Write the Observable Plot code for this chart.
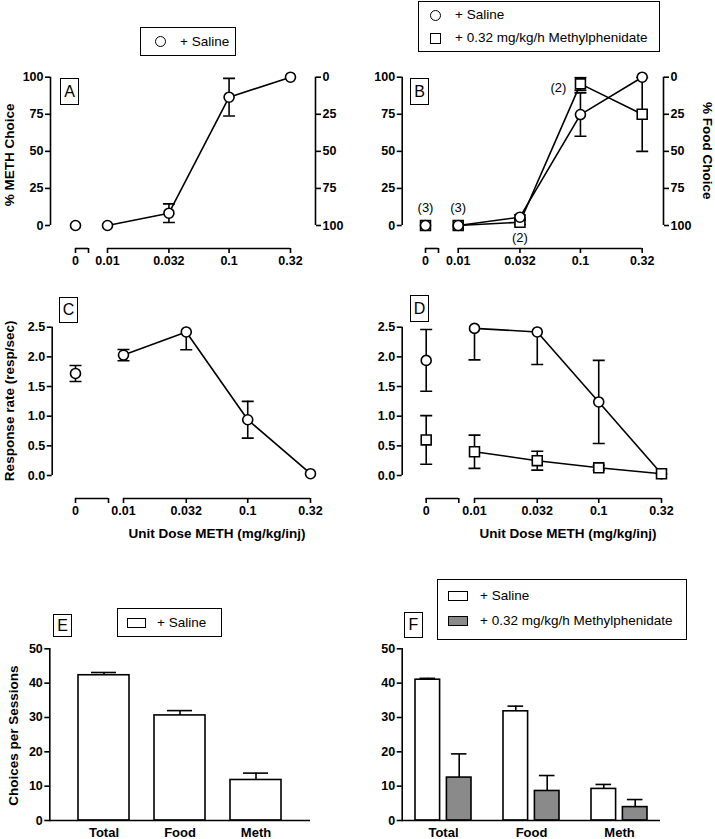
<!DOCTYPE html>
<html>
<head>
<meta charset="utf-8">
<script src="https://cdn.jsdelivr.net/npm/d3@7"></script>
<script src="https://cdn.jsdelivr.net/npm/@observablehq/plot@0.6"></script>
<style>
  body { margin: 0; background: #fff; font-family: "Liberation Sans", Arial, sans-serif; }
  #fig { position: relative; width: 715px; height: 839px; overflow: hidden; background: #fff; }
  .panel { position: absolute; }
  .panel svg { background: transparent !important; max-width: none !important; }
  .box { position: absolute; border: 1.5px solid #000; box-sizing: border-box; background: #fff; }
  .letter { position: absolute; border: 1.5px solid #000; box-sizing: border-box; background: #fff;
            font-size: 16px; display: flex; align-items: center; justify-content: center; line-height: 1; }
  .sym { position: absolute; box-sizing: border-box; border: 1.6px solid #000; background: #fff; }
  .circ { border-radius: 50%; }
  .ltxt { position: absolute; font-size: 13.5px; line-height: 16px; white-space: nowrap; color: #000; }
</style>
</head>
<body>
<div id="fig"></div>
<script>
// ---------------- DATA ----------------
const doses = [0, 0.01, 0.032, 0.1, 0.32];
const doseLabels = ["0", "0.01", "0.032", "0.1", "0.32"];
const choiceTicks = [0, 25, 50, 75, 100];
const rateTicks = [0, 0.5, 1.0, 1.5, 2.0, 2.5];

// Panel A: % METH choice, + Saline
const choiceA_saline = [0, 0, 8.3, 86.5, 100];
const choiceA_saline_sem = [0, 0, 6.3, 12.7, 0];

// Panel B: % METH choice, + Saline and + Methylphenidate
const choiceB_saline = [0, 0, 5.6, 74.8, 100];
const choiceB_saline_sem = [0, 0, 1.5, 14.6, 0];
const choiceB_mph = [0, 0, 2.2, 95.5, 75];
const choiceB_mph_sem = [0, 0, 1.5, 4.5, 25];
const choiceB_mph_n = ["(3)", "(3)", "(2)", "(2)", ""];

// Panel C: response rate, + Saline
const rateC_saline = [1.72, 2.03, 2.42, 0.94, 0.03];
const rateC_saline_sem = [0.135, 0.095, 0.30, 0.31, 0];

// Panel D: response rate, + Saline and + Methylphenidate
const rateD_saline = [1.94, 2.48, 2.42, 1.24, 0.03];
const rateD_saline_sem = [0.52, 0.53, 0.55, 0.70, 0];
const rateD_mph = [0.60, 0.40, 0.25, 0.13, 0.03];
const rateD_mph_sem = [0.41, 0.28, 0.16, 0.04, 0];

// Panels E/F: choices per session
const barCategories = ["Total", "Food", "Meth"];
const barTicks = [0, 10, 20, 30, 40, 50];
const barsE_saline = [42.3, 30.6, 11.8];
const barsE_saline_sem = [0.8, 1.4, 2.0];
const barsF_saline = [41.0, 31.8, 9.2];
const barsF_saline_sem = [0.4, 1.5, 1.3];
const barsF_mph = [12.5, 8.6, 3.9];
const barsF_mph_sem = [6.9, 4.5, 2.2];

// ---------------- HELPERS ----------------
const fig = document.getElementById("fig");
const FONT = "'Liberation Sans', Arial, Helvetica, sans-serif";
const SW = 1.6;
const TICK_FS = 12.5;
const TITLE_FS = 13.5;
const capSymbol = {
  draw(ctx, size) {
    const w = Math.sqrt(size / Math.PI);
    ctx.moveTo(-w, 0);
    ctx.lineTo(w, 0);
  }
};

function place(el, left, top, W) {
  const d = document.createElement("div");
  d.className = "panel";
  d.style.left = left + "px";
  d.style.top = top + "px";
  d.style.width = W + "px";
  d.appendChild(el);
  fig.appendChild(d);
}

function dosePanel(cfg) {
  const lo = Math.log10(doses[1]), hi = Math.log10(doses[doses.length - 1]);
  const decade = (cfg.p32 - cfg.p01) / (hi - lo);
  const toLog = px => lo + (px - cfg.p01) / decade;
  const zeroPos = toLog(cfg.p0), breakPos = toLog(cfg.pBr);
  const xPos = d => d === 0 ? zeroPos : Math.log10(d);
  const unit = (cfg.yZeroPx - cfg.yTopPx) / cfg.yMax;
  const yLo = -(cfg.axisPx - cfg.yZeroPx) / unit;
  const xDomain = [toLog(cfg.L), toLog(cfg.R)];
  const tickVals = [zeroPos, breakPos, ...doses.slice(1).map(Math.log10)];
  const tickFormat = v => {
    const i = doses.findIndex(d => Math.abs(xPos(d) - v) < 1e-9);
    return i >= 0 ? doseLabels[i] : "";
  };

  const seriesRows = cfg.series.map(s => doses.map((d, i) => ({
    dose: d, x: xPos(d), v: s.values[i], e: s.sem[i],
    lo: s.values[i] - s.sem[i], hi: s.values[i] + s.sem[i],
    n: s.n ? s.n[i] : ""
  })));

  const marks = [];
  // y axis line + ticks
  marks.push(Plot.ruleX([xDomain[0]], {y1: 0, y2: cfg.yMax, strokeWidth: SW}));
  marks.push(Plot.axisY({ticks: cfg.yTicks, tickFormat: cfg.yFormat, tickSize: 5, tickPadding: 2, label: null,
    strokeWidth: SW, fontSize: TICK_FS, fontWeight: "bold"}));
  if (cfg.rightAxis) {
    marks.push(Plot.ruleX([xDomain[1]], {y1: 0, y2: cfg.yMax, strokeWidth: SW}));
    marks.push(Plot.axisY({anchor: "right", ticks: cfg.yTicks, tickFormat: d => cfg.yMax - d, label: null,
      tickSize: 5, tickPadding: 2, strokeWidth: SW, fontSize: TICK_FS, fontWeight: "bold"}));
  }
  // broken x axis
  marks.push(Plot.ruleY([{a: zeroPos, b: breakPos}, {a: lo, b: hi}],
    {x1: "a", x2: "b", y: yLo, strokeWidth: SW}));
  marks.push(Plot.axisX({ticks: tickVals, tickFormat, tickSize: 5, tickPadding: 3, label: null,
    strokeWidth: SW, fontSize: TICK_FS, fontWeight: "bold"}));

  // error bars
  seriesRows.forEach(rows => {
    const er = rows.filter(d => d.e > 0);
    marks.push(Plot.ruleX(er, {x: "x", y1: "lo", y2: "hi", strokeWidth: SW, clip: true}));
    marks.push(Plot.dot(er, {x: "x", y: "lo", symbol: capSymbol, r: 6, stroke: "black", fill: "none", strokeWidth: SW, clip: true}));
    marks.push(Plot.dot(er, {x: "x", y: "hi", symbol: capSymbol, r: 6, stroke: "black", fill: "none", strokeWidth: SW, clip: true}));
  });
  // lines + points
  seriesRows.forEach((rows, k) => {
    const s = cfg.series[k];
    marks.push(Plot.line(rows.filter(d => d.dose > 0), {x: "x", y: "v", stroke: "black", strokeWidth: SW}));
    marks.push(Plot.dot(rows, {x: "x", y: "v", symbol: s.symbol, r: s.symbol === "square" ? 5.6 : 5,
      fill: "white", stroke: "black", strokeWidth: SW}));
  });
  // n labels
  seriesRows.forEach(rows => {
    const withN = rows.filter(d => d.n);
    if (!withN.length) return;
    const opt = {x: "x", y: "v", text: "n", fontSize: 13, fontWeight: "normal", fill: "black"};
    marks.push(Plot.text(withN.filter(d => d.dose < 0.02), {...opt, dy: -18}));
    marks.push(Plot.text(withN.filter(d => d.dose > 0.02 && d.dose < 0.05), {...opt, dy: 16}));
    marks.push(Plot.text(withN.filter(d => d.dose > 0.05), {...opt, dx: -22, dy: 4}));
  });
  // titles
  const tOpt = {fontSize: TITLE_FS, fontWeight: "bold", textAnchor: "middle", lineAnchor: "middle"};
  if (cfg.yTitle) marks.push(Plot.text([cfg.yTitle], {...tOpt, frameAnchor: "left", rotate: -90,
    dx: cfg.yTitleDx, dy: cfg.yTitleDy}));
  if (cfg.rTitle) marks.push(Plot.text([cfg.rTitle], {...tOpt, frameAnchor: "right", rotate: 90,
    dx: cfg.rTitleDx, dy: cfg.rTitleDy}));
  if (cfg.xTitle) marks.push(Plot.text([cfg.xTitle], {...tOpt, x: (lo + hi) / 2, frameAnchor: "bottom",
    dy: cfg.xTitleDy}));

  const p = Plot.plot({
    width: cfg.W, height: cfg.H,
    marginLeft: cfg.L, marginRight: cfg.W - cfg.R,
    marginTop: cfg.yTopPx, marginBottom: cfg.H - cfg.axisPx,
    x: {type: "linear", domain: xDomain},
    y: {domain: [yLo, cfg.yMax]},
    style: {fontFamily: FONT, fontSize: "12px", color: "black", background: "transparent", overflow: "visible"},
    marks
  });
  place(p, cfg.left, cfg.top, cfg.W);
}

function barPanel(cfg) {
  const marks = [];
  marks.push(Plot.frame({anchor: "left", strokeWidth: SW}));
  marks.push(Plot.axisY({ticks: barTicks, tickSize: 5, tickPadding: 2, label: null, strokeWidth: SW,
    fontSize: TICK_FS, fontWeight: "bold"}));
  marks.push(Plot.axisX({tickSize: 0, tickPadding: 7, label: null, fontSize: 13, fontWeight: "bold"}));
  cfg.series.forEach(s => {
    const rows = barCategories.map((c, i) => ({cat: c, v: s.values[i], hi: s.values[i] + s.sem[i]}));
    marks.push(Plot.ruleX(rows, {x: "cat", y1: "v", y2: "hi", dx: s.dx, strokeWidth: SW}));
    marks.push(Plot.tickY(rows, {x: "cat", y: "hi", insetLeft: s.capL, insetRight: s.capR, strokeWidth: SW}));
    marks.push(Plot.barY(rows, {x: "cat", y: "v", fill: s.fill, stroke: "black", strokeWidth: SW,
      insetLeft: s.insetL, insetRight: s.insetR}));
  });
  marks.push(Plot.ruleY([0], {strokeWidth: SW}));
  if (cfg.yTitle) marks.push(Plot.text([cfg.yTitle], {frameAnchor: "left", rotate: -90,
    textAnchor: "middle", lineAnchor: "middle",
    dx: cfg.yTitleDx, dy: cfg.yTitleDy, fontSize: TITLE_FS, fontWeight: "bold"}));
  const p = Plot.plot({
    width: cfg.W, height: cfg.H,
    marginLeft: cfg.L, marginRight: cfg.W - cfg.R,
    marginTop: cfg.yTopPx, marginBottom: cfg.H - cfg.axisPx,
    x: {domain: barCategories, paddingInner: cfg.pi, paddingOuter: cfg.po},
    y: {domain: [0, 50]},
    style: {fontFamily: FONT, fontSize: "12px", color: "black", background: "transparent", overflow: "visible"},
    marks
  });
  place(p, cfg.left, cfg.top, cfg.W);
}

// ---------------- PANELS ----------------
const fmt1 = d3.format(".1f");

// A
dosePanel({
  left: 0, top: 60, W: 355, H: 215,
  L: 50, R: 315, p01: 107, p32: 290, p0: 75, pBr: 88,
  yTopPx: 16.7, yZeroPx: 165, axisPx: 188, yMax: 100, yTicks: choiceTicks, yFormat: d => d,
  rightAxis: true,
  series: [{values: choiceA_saline, sem: choiceA_saline_sem, symbol: "circle"}],
  yTitle: "% METH Choice", yTitleDx: -41, yTitleDy: -8
});
// B
dosePanel({
  left: 355, top: 60, W: 360, H: 215,
  L: 46.7, R: 308, p01: 102.7, p32: 286.7, p0: 70, pBr: 83,
  yTopPx: 16.7, yZeroPx: 165, axisPx: 188, yMax: 100, yTicks: choiceTicks, yFormat: d => d,
  rightAxis: true,
  series: [
    {values: choiceB_mph, sem: choiceB_mph_sem, symbol: "square", n: choiceB_mph_n},
    {values: choiceB_saline, sem: choiceB_saline_sem, symbol: "circle"}
  ],
  rTitle: "% Food Choice", rTitleDx: 44, rTitleDy: -12
});
// C
dosePanel({
  left: 0, top: 285, W: 355, H: 265,
  L: 51.7, R: 335, p01: 123, p32: 310, p0: 75, pBr: 108,
  yTopPx: 41.7, yZeroPx: 190, axisPx: 213, yMax: 2.5, yTicks: rateTicks, yFormat: fmt1,
  rightAxis: false,
  series: [{values: rateC_saline, sem: rateC_saline_sem, symbol: "circle"}],
  yTitle: "Response rate (resp/sec)", yTitleDx: -43, yTitleDy: -12,
  xTitle: "Unit Dose METH (mg/kg/inj)", xTitleDy: 35
});
// D
dosePanel({
  left: 355, top: 285, W: 360, H: 265,
  L: 46.7, R: 330, p01: 119, p32: 306, p0: 70.7, pBr: 103.3,
  yTopPx: 41.7, yZeroPx: 190, axisPx: 213, yMax: 2.5, yTicks: rateTicks, yFormat: fmt1,
  rightAxis: false,
  series: [
    {values: rateD_saline, sem: rateD_saline_sem, symbol: "circle"},
    {values: rateD_mph, sem: rateD_mph_sem, symbol: "square"}
  ],
  xTitle: "Unit Dose METH (mg/kg/inj)", xTitleDy: 35
});
// E
barPanel({
  left: 0, top: 600, W: 355, H: 239,
  L: 49.3, R: 310, yTopPx: 48.3, axisPx: 220, pi: 0.333, po: 0.36,
  series: [{values: barsE_saline, sem: barsE_saline_sem, fill: "white", dx: 0, insetL: 0, insetR: 0, capL: 13, capR: 13}],
  yTitle: "Choices per Sessions", yTitleDx: -36, yTitleDy: 1
});
// F
barPanel({
  left: 355, top: 600, W: 360, H: 239,
  L: 46.7, R: 305, yTopPx: 48.3, axisPx: 220, pi: 0.361, po: 0.143,
  series: [
    {values: barsF_saline, sem: barsF_saline_sem, fill: "white", dx: -15.7, insetL: 0, insetR: 31.4, capL: 4.5, capR: 35.9},
    {values: barsF_mph, sem: barsF_mph_sem, fill: "#8a8a8a", dx: 15.7, insetL: 31.4, insetR: 0, capL: 35.9, capR: 4.5}
  ]
});

// ---------------- LEGENDS & PANEL LETTERS ----------------
function addEl(cls, style, text) {
  const d = document.createElement("div");
  d.className = cls;
  Object.assign(d.style, style);
  if (text) d.textContent = text;
  fig.appendChild(d);
  return d;
}
// legend A
addEl("box", {left: "140px", top: "27px", width: "96px", height: "29px"});
addEl("sym circ", {left: "154.5px", top: "36px", width: "11px", height: "11px"});
addEl("ltxt", {left: "180px", top: "33.5px"}, "+ Saline");
// legend B
addEl("box", {left: "418px", top: "1px", width: "242px", height: "51px"});
addEl("sym circ", {left: "429.5px", top: "9.5px", width: "11px", height: "11px"});
addEl("ltxt", {left: "455px", top: "7px"}, "+ Saline");
addEl("sym", {left: "429.5px", top: "32.5px", width: "11px", height: "11px"});
addEl("ltxt", {left: "455px", top: "30px"}, "+ 0.32 mg/kg/h Methylphenidate");
// legend E
addEl("box", {left: "117px", top: "608px", width: "105px", height: "29px"});
addEl("sym", {left: "127px", top: "618px", width: "19px", height: "10px"});
addEl("ltxt", {left: "157px", top: "615px"}, "+ Saline");
// legend F
addEl("box", {left: "437px", top: "579px", width: "250px", height: "61px"});
addEl("sym", {left: "448px", top: "591px", width: "20px", height: "10px"});
addEl("ltxt", {left: "480px", top: "588px"}, "+ Saline");
addEl("sym", {left: "448px", top: "616px", width: "20px", height: "10px", background: "#8a8a8a"});
addEl("ltxt", {left: "480px", top: "613px"}, "+ 0.32 mg/kg/h Methylphenidate");
// panel letters
[["A", 60, 78, 19, 27], ["B", 410, 78, 19, 27], ["C", 59, 297, 19, 26],
 ["D", 410, 295, 19, 27], ["E", 53, 614, 19, 23], ["F", 404, 612, 19, 26]].forEach(([t, x, y, w, h]) => {
  addEl("letter", {left: x + "px", top: y + "px", width: w + "px", height: h + "px"}, t);
});
</script>
</body>
</html>
